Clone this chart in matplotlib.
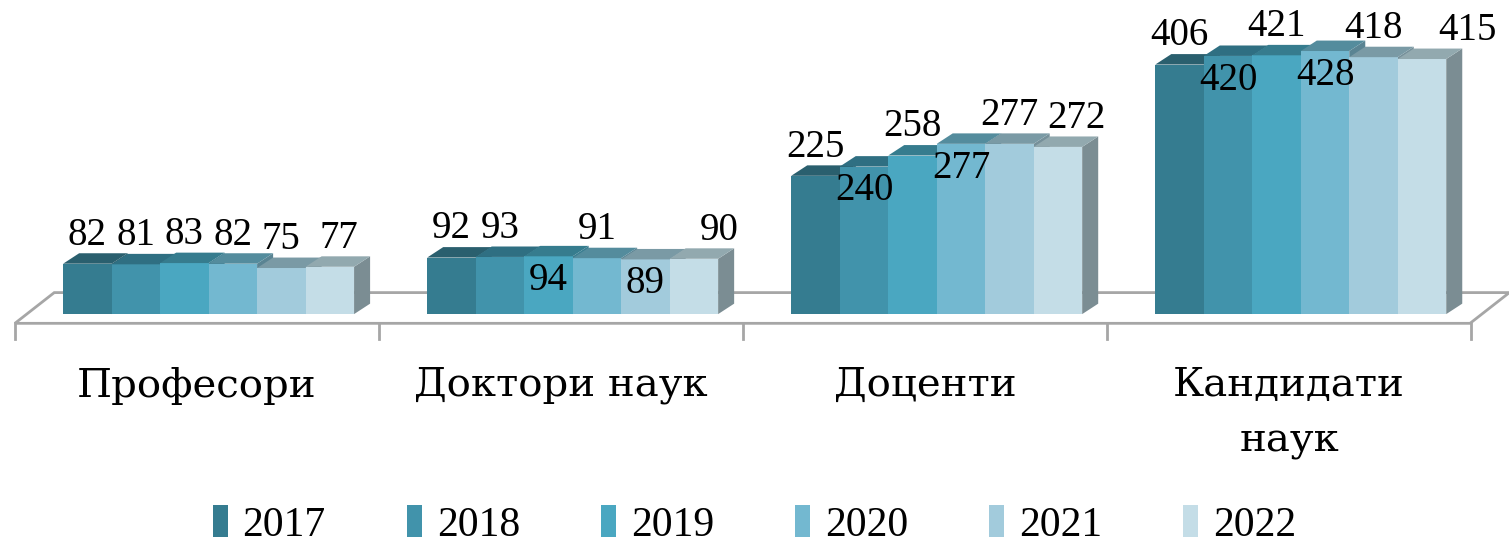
import numpy as np
import matplotlib
matplotlib.use("Agg")
import matplotlib.pyplot as plt
from matplotlib.patches import Polygon, Patch

categories = ["Професори", "Доктори наук", "Доценти", "Кандидати\nнаук"]
years = ["2017", "2018", "2019", "2020", "2021", "2022"]
values = np.array([
    [82, 81, 83, 82, 75, 77],
    [92, 93, 94, 91, 89, 90],
    [225, 240, 258, 277, 277, 272],
    [406, 420, 421, 428, 418, 415],
])

# style
fronts = ["#357C90", "#4193AB", "#4AA7C1", "#73B8D0", "#A2CBDC", "#C4DDE7"]
tops = ["#2A5F6E", "#2F6F82", "#367C8E", "#548C9D", "#7A9AA5", "#92A9AF"]
sides = ["#2A5E6C", "#326F81", "#3B7E91", "#5A8493", "#76909A", "#7B8D93"]
inside = {(1, 2), (1, 4), (2, 1), (2, 3), (3, 1), (3, 3)}
nudge = {(0, 5): 0.025, (1, 5): 0.07, (2, 5): 0.052, (3, 5): 0.124}
font = "DejaVu Serif"
num_font = "Liberation Serif"

fig = plt.figure(figsize=(15.09, 5.44), dpi=100)
ax = fig.add_axes([0, 0, 1, 1])
ax.set_xlim(-0.541, 3.604)
ax.set_ylim(-374, 511)
ax.axis("off")

w = 0.1332          # bar width (category units)
shift = 0.032       # group offset
dx, dy = 0.044, 17  # depth of bars

# floor
fdx, fdy = 0.108, 50
fy = -15
floor = Polygon([(-0.5, fy), (3.497, fy), (3.497 + fdx, fy + fdy), (-0.5 + fdx, fy + fdy)],
                closed=True, facecolor="white", edgecolor="#A6A6A6", lw=2, zorder=1)
ax.add_patch(floor)
for b in np.arange(-0.5, 4.0, 1.0):
    ax.plot([b, b], [fy, fy - 25], color="#A6A6A6", lw=2, zorder=1)

n = len(years)
for i in range(len(categories)):
    start = i + shift - n * w / 2
    for j in range(n):
        h = values[i, j]
        x0 = start + j * w
        z = 2 + j * 0.01
        side = Polygon([(x0 + w, 0), (x0 + w + dx, dy), (x0 + w + dx, h + dy), (x0 + w, h)],
                       closed=True, facecolor=sides[j], edgecolor="none", zorder=z)
        front = Polygon([(x0, 0), (x0 + w, 0), (x0 + w, h), (x0, h)],
                        closed=True, facecolor=fronts[j], edgecolor="none", zorder=z)
        top = Polygon([(x0, h), (x0 + w, h), (x0 + w + dx, h + dy), (x0 + dx, h + dy)],
                      closed=True, facecolor=tops[j], edgecolor="none", zorder=z)
        for p in (side, front, top):
            ax.add_patch(p)
        xc = x0 + w / 2 + nudge.get((i, j), 0)
        ty = h - 55 if (i, j) in inside else h + 31
        ax.text(xc, ty, str(h), ha="center", va="baseline", fontsize=28,
                family=num_font, zorder=5)

for i, c in enumerate(categories):
    ax.text(i, -86, c, ha="center", va="top", fontsize=29, family=font,
            linespacing=1.65)

handles = [Patch(facecolor=fronts[j], edgecolor="none") for j in range(n)]
fig.legend(handles, years, loc="lower center", bbox_to_anchor=(0.5, -0.07), ncol=n,
           frameon=False, prop={"family": num_font, "size": 30},
           handlelength=0.36, handleheight=0.8, handletextpad=0.35, columnspacing=1.95)

fig.savefig("out.png", dpi=100)
